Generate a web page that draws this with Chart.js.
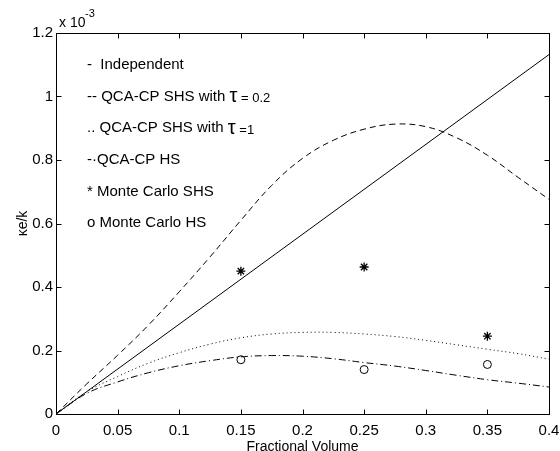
<!DOCTYPE html>
<html>
<head>
<meta charset="utf-8">
<script src="https://cdn.jsdelivr.net/npm/chart.js@4"></script>
<style>
  html, body { margin: 0; padding: 0; background: #fff; }
</style>
</head>
<body>
<canvas id="kChart" width="560" height="451"></canvas>
<script>
/* ---------- data (κe/k in units of 1e-3) ---------- */
const xTicks = [0, 0.05, 0.1, 0.15, 0.2, 0.25, 0.3, 0.35, 0.4];
const yTicks = [0, 0.2, 0.4, 0.6, 0.8, 1, 1.2];

// curve sample points along the fractional volume axis
const phi = [0, 0.025, 0.05, 0.075, 0.1, 0.125, 0.15, 0.175, 0.2, 0.225, 0.25, 0.275, 0.3, 0.325, 0.35, 0.375, 0.4];

const indepX = [0, 0.4];
const indepY = [0, 1.132];
const shs02 = [0, 0.095, 0.185, 0.28, 0.385, 0.495, 0.61, 0.72, 0.805, 0.862, 0.897, 0.913, 0.905, 0.87, 0.815, 0.745, 0.676];
const shs1  = [0, 0.07, 0.118, 0.16, 0.193, 0.22, 0.24, 0.252, 0.257, 0.257, 0.252, 0.244, 0.232, 0.218, 0.204, 0.19, 0.173];
const hs    = [0, 0.065, 0.101, 0.13, 0.152, 0.168, 0.18, 0.184, 0.182, 0.174, 0.162, 0.151, 0.137, 0.122, 0.108, 0.097, 0.085];

const mcX = [0.15, 0.25, 0.35];
const mcShs = [0.45, 0.463, 0.245];
const mcHs  = [0.171, 0.14, 0.156];

const pts = (xs, ys) => xs.map((x, i) => ({ x, y: ys[i] }));
const FONT = '"Liberation Sans", Arial, Helvetica, sans-serif';

/* ---------- box + inward ticks, MATLAB style ---------- */
const frameTicks = {
  id: 'frameTicks',
  afterDatasetsDraw(chart) {
    const { ctx, chartArea: a, scales: { x, y } } = chart;
    const L = Math.round(a.left) + 0.5, R = Math.round(a.right) + 0.5;
    const T = Math.round(a.top) + 0.5, B = Math.round(a.bottom) + 0.5;
    ctx.save();
    ctx.strokeStyle = '#000';
    ctx.lineWidth = 1;
    ctx.strokeRect(L, T, R - L, B - T);
    ctx.beginPath();
    x.ticks.forEach(t => {
      const px = Math.round(x.getPixelForValue(t.value)) + 0.5;
      ctx.moveTo(px, B); ctx.lineTo(px, B - 5);
      ctx.moveTo(px, T); ctx.lineTo(px, T + 5);
    });
    y.ticks.forEach(t => {
      const py = Math.round(y.getPixelForValue(t.value)) + 0.5;
      ctx.moveTo(L, py); ctx.lineTo(L + 5, py);
      ctx.moveTo(R, py); ctx.lineTo(R - 5, py);
    });
    ctx.stroke();

    // exponent note above the y axis
    ctx.fillStyle = '#000';
    ctx.textBaseline = 'alphabetic';
    ctx.font = '14px ' + FONT;
    ctx.fillText('x 10', a.left + 3, a.top - 6);
    ctx.font = '11px ' + FONT;
    ctx.fillText('-3', a.left + 29, a.top - 16);
    ctx.restore();
  }
};

/* ---------- text legend inside the plot ---------- */
const legendRows = [
  [['-  Independent', 15]],
  [['-- QCA-CP SHS with ', 15], ['\u03C4', 20], [' = 0.2', 13]],
  [['.. QCA-CP SHS with ', 15], ['\u03C4', 20], [' =1', 13]],
  [['-\u00B7QCA-CP HS', 15]],
  [['* Monte Carlo SHS', 15]],
  [['o Monte Carlo HS', 15]]
];

const textLegend = {
  id: 'textLegend',
  afterDraw(chart) {
    const { ctx, chartArea: a } = chart;
    ctx.save();
    ctx.fillStyle = '#000';
    ctx.textBaseline = 'middle';
    legendRows.forEach((row, i) => {
      let x = a.left + 31;
      const y = a.top + 32 + i * 31.6;
      row.forEach(([s, size]) => {
        ctx.font = size + 'px ' + FONT;
        ctx.fillText(s, x, size === 13 ? y + 2 : y);
        x += ctx.measureText(s).width;
      });
    });
    ctx.restore();
  }
};

new Chart(document.getElementById('kChart'), {
  type: 'line',
  data: {
    datasets: [
      { data: pts(indepX, indepY), borderColor: '#000', borderWidth: 1, pointRadius: 0, tension: 0 },
      { data: pts(phi, shs02), borderColor: '#000', borderWidth: 1, borderDash: [6, 4], pointRadius: 0, tension: 0.4 },
      { data: pts(phi, shs1), borderColor: '#000', borderWidth: 1, borderDash: [1, 3], pointRadius: 0, tension: 0.4 },
      { data: pts(phi, hs), borderColor: '#000', borderWidth: 1, borderDash: [7, 3, 1, 3], pointRadius: 0, tension: 0.4 },
      { data: pts(mcX, mcShs), showLine: false, pointStyle: 'star', pointRadius: 4.5, borderColor: '#000', borderWidth: 1.3 },
      { data: pts(mcX, mcHs), showLine: false, pointStyle: 'circle', pointRadius: 4, borderColor: '#000', backgroundColor: '#fff', borderWidth: 1 }
    ]
  },
  options: {
    responsive: false,
    animation: false,
    events: [],
    layout: { padding: { left: 0, right: 11, top: 33, bottom: 0 } },
    plugins: { legend: { display: false }, tooltip: { enabled: false } },
    scales: {
      x: {
        type: 'linear', min: 0, max: 0.4,
        afterBuildTicks: s => { s.ticks = xTicks.map(v => ({ value: v })); },
        afterFit: s => { s.height = 37; s.paddingLeft = 0; s.paddingRight = 0; },
        grid: { display: false, drawTicks: false },
        border: { display: false },
        ticks: { color: '#000', padding: 8, maxRotation: 0, font: { family: FONT, size: 15 },
                 callback: v => String(+v.toFixed(2)) },
        title: { display: true, text: 'Fractional Volume', color: '#000', padding: { top: 0, bottom: -5 }, font: { family: FONT, size: 14 } }
      },
      y: {
        type: 'linear', min: 0, max: 1.2,
        afterBuildTicks: s => { s.ticks = yTicks.map(v => ({ value: v })); },
        afterFit: s => { s.width = 56; s.paddingTop = 0; s.paddingBottom = 0; },
        grid: { display: false, drawTicks: false },
        border: { display: false },
        ticks: { color: '#000', padding: 3, font: { family: FONT, size: 15 },
                 callback: v => String(+v.toFixed(1)) },
        title: { display: true, text: '\u03BAe/k', color: '#000', padding: { top: 15, bottom: 0 }, font: { family: FONT, size: 14 } }
      }
    }
  },
  plugins: [frameTicks, textLegend]
});
</script>
</body>
</html>
